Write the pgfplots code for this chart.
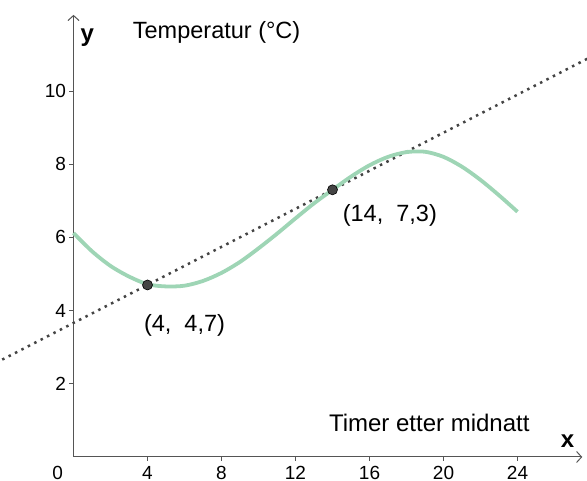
\documentclass[border=0pt]{standalone}
\usepackage{pgfplots}
\pgfplotsset{compat=1.18}
\usepackage{fontspec}
\setmainfont{Liberation Sans}
\usetikzlibrary{arrows.meta}
\definecolor{kurve}{HTML}{9ED5B5}
\definecolor{linje}{HTML}{444444}
\definecolor{akse}{HTML}{555555}

\pgfplotstableread{
x y
0 6.12
1 5.62
2 5.22
3 4.93
4 4.72
5 4.66
6 4.68
7 4.81
8 5.03
9 5.33
10 5.70
11 6.10
12 6.52
13 6.93
14 7.30
15 7.66
16 7.97
17 8.20
18 8.33
19 8.34
20 8.20
21 7.93
22 7.57
23 7.15
24 6.70
}\temp

\begin{document}
\begin{tikzpicture}
\begin{axis}[
  x=18.5pt, y=36.6pt,
  xmin=0, xmax=27.5, ymin=0, ymax=12.08,
  axis lines=left,
  axis line style={line width=1pt, akse, -{Straight Barb[length=5pt,width=11pt]}},
  clip=false,
  xtick={4,8,...,24}, ytick={2,4,...,10},
  tick align=outside, major tick length=4pt,
  tick style={akse, line width=0.8pt},
  ticklabel style={font=\fontsize{19}{19}\selectfont},
  xticklabel style={yshift=-2pt},
  /pgf/number format/assume math mode=true,
]
\addplot[linje, line width=2.5pt, line cap=butt, dash pattern=on 2.5pt off 4.7pt]
  coordinates {(-4.2,2.57) (28,10.94)};
\addplot[kurve, line width=3.8pt, smooth] table {\temp};
\addplot[only marks, mark=*, mark size=5pt, mark options={fill=linje, draw=black, line width=0.6pt}]
  coordinates {(4,4.7) (14,7.3)};

\node[anchor=north, font=\fontsize{19}{19}\selectfont, inner sep=0pt] at (axis cs:-0.85,-0.25) {0};
\node[font=\bfseries\fontsize{24}{24}\selectfont] at (axis cs:0.75,11.45) {y};
\node[font=\bfseries\fontsize{24}{24}\selectfont] at (axis cs:26.7,0.42) {x};
\node[anchor=west, font=\fontsize{23.5}{23.5}\selectfont, inner sep=0pt] at (axis cs:3.2,11.6) {Temperatur (°C)};
\node[anchor=west, font=\fontsize{24}{24}\selectfont, inner sep=0pt] at (axis cs:13.8,0.93) {Timer etter midnatt};
\node[font=\fontsize{23.5}{23.5}\selectfont] at (axis cs:6.0,3.6) {(4,\ \ 4,7)};
\node[font=\fontsize{23.5}{23.5}\selectfont] at (axis cs:17.1,6.6) {(14,\ \ 7,3)};

\coordinate (bl) at (axis cs:-3.973,-0.656);
\coordinate (tr) at (axis cs:27.757,12.486);
\end{axis}
\pgfresetboundingbox
\useasboundingbox (bl) rectangle (tr);
\end{tikzpicture}
\end{document}
